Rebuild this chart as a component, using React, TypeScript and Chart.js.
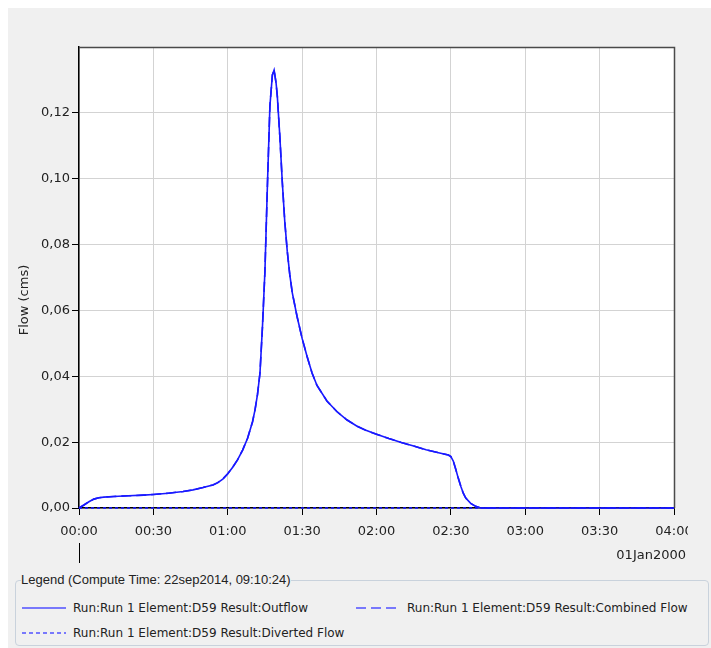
import React, { useEffect, useRef } from "react";
import { Chart, registerables } from "chart.js";

Chart.register(...registerables);

// Time since 01Jan2000 00:00, in minutes
const timeMinutes = [
  0, 2, 4, 6, 8, 10, 14, 20, 26, 30, 36, 42, 46, 50, 54, 56, 58, 60, 62, 64, 66, 68, 70, 71, 72, 73, 74, 75,
  76, 77, 78, 78.7, 79.5, 80, 81, 82, 83, 84, 85, 86, 88, 90, 92, 94, 96, 100, 104, 108, 112, 116, 120, 125,
  130, 135, 140, 145, 149, 150, 151, 152, 153, 154, 155, 156, 158, 160, 162, 180, 210, 240,
];

// Outflow (cms)
const outflow = [
  0, 0.0009, 0.0019, 0.0027, 0.0031, 0.0033, 0.0035, 0.0037, 0.0039, 0.0041, 0.0045, 0.005, 0.0055, 0.0062,
  0.007, 0.0077, 0.0088, 0.0104, 0.0124, 0.0147, 0.0176, 0.0212, 0.0262, 0.0298, 0.0345, 0.041, 0.055, 0.072,
  0.098, 0.122, 0.1315, 0.133, 0.129, 0.125, 0.113, 0.099, 0.087, 0.078, 0.071, 0.0655, 0.058, 0.0515, 0.046,
  0.041, 0.0372, 0.0325, 0.0293, 0.0268, 0.0249, 0.0235, 0.0224, 0.0211, 0.0199, 0.0188, 0.0177, 0.0168,
  0.0161, 0.0156, 0.0142, 0.0117, 0.009, 0.0066, 0.0045, 0.003, 0.0014, 0.0005, 0, 0, 0, 0,
];

// Combined flow coincides with the outflow curve
const combinedFlow = outflow;

// Diverted flow stays at zero
const divertedTimes = [0, 240];
const divertedFlow = [0, 0];

const xTicksMinutes = [0, 30, 60, 90, 120, 150, 180, 210, 240];
const yTicks = [0, 0.02, 0.04, 0.06, 0.08, 0.1, 0.12];

const seriesLabels = [
  "Run:Run 1 Element:D59 Result:Outflow",
  "Run:Run 1 Element:D59 Result:Combined Flow",
  "Run:Run 1 Element:D59 Result:Diverted Flow",
];
const legendTitle = "Legend (Compute Time: 22sep2014, 09:10:24)";
const yTitle = "Flow (cms)";
const dateLabel = "01Jan2000";

const LINE = "rgb(25,25,255)";
const SWATCH = "rgb(80,80,255)";
const FONT = '"DejaVu Sans", sans-serif';

function fmtTime(v: number) {
  const h = Math.floor(v / 60);
  const m = Math.round(v % 60);
  return `${String(h).padStart(2, "0")}:${String(m).padStart(2, "0")}`;
}

const framePlugin = {
  id: "framePlugin",
  beforeDraw(chart: any) {
    const { ctx, chartArea: a } = chart;
    ctx.save();
    ctx.fillStyle = "#ffffff";
    ctx.fillRect(a.left, a.top, a.right - a.left, a.bottom - a.top);
    ctx.restore();
  },
  beforeDatasetsDraw(chart: any) {
    const { ctx, chartArea: a } = chart;
    ctx.save();
    ctx.strokeStyle = "#4a4a4a";
    ctx.lineWidth = 1.5;
    ctx.beginPath();
    ctx.moveTo(a.left, Math.round(a.top) + 0.5);
    ctx.lineTo(Math.round(a.right) + 0.5, Math.round(a.top) + 0.5);
    ctx.lineTo(Math.round(a.right) + 0.5, a.bottom);
    ctx.stroke();
    ctx.restore();
  },
  afterDraw(chart: any) {
    const { ctx } = chart;
    const xs = chart.scales.x;
    ctx.save();
    // y-axis title
    ctx.fillStyle = "#222";
    ctx.font = `13px ${FONT}`;
    ctx.textAlign = "center";
    ctx.textBaseline = "middle";
    ctx.translate(17, 292);
    ctx.rotate(-Math.PI / 2);
    ctx.fillText(yTitle, 0, 0);
    ctx.restore();

    ctx.save();
    ctx.fillStyle = "#222";
    ctx.font = `13px ${FONT}`;
    ctx.textAlign = "right";
    ctx.textBaseline = "alphabetic";
    ctx.fillText(dateLabel, 678, 551);
    // date period tick
    const x0 = Math.round(xs.getPixelForValue(timeMinutes[0])) + 0.5;
    ctx.strokeStyle = "#000";
    ctx.lineWidth = 1;
    ctx.beginPath();
    ctx.moveTo(x0, 535);
    ctx.lineTo(x0, 555);
    ctx.stroke();
    ctx.restore();
  },
};

function Swatch({ dash }: { dash?: string }) {
  return (
    <svg width={44} height={6} style={{ display: "inline-block", verticalAlign: "middle" }}>
      <line x1={0} y1={3} x2={44} y2={3} stroke={SWATCH} strokeWidth={1.6} strokeDasharray={dash} />
    </svg>
  );
}

export default function App() {
  const canvasRef = useRef<HTMLCanvasElement>(null);

  useEffect(() => {
    if (!canvasRef.current) return;
    const chart = new Chart(canvasRef.current, {
      type: "line",
      data: {
        datasets: [
          {
            label: seriesLabels[2],
            data: divertedTimes.map((t, i) => ({ x: t, y: divertedFlow[i] })),
            borderColor: LINE,
            borderWidth: 1.6,
            borderDash: [3, 3],
            pointRadius: 0,
            tension: 0,
            clip: 6,
          },
          {
            label: seriesLabels[0],
            data: timeMinutes.map((t, i) => ({ x: t, y: outflow[i] })),
            borderColor: LINE,
            borderWidth: 1.6,
            pointRadius: 0,
            tension: 0,
            clip: 6,
          },
          {
            label: seriesLabels[1],
            data: timeMinutes.map((t, i) => ({ x: t, y: combinedFlow[i] })),
            borderColor: LINE,
            borderWidth: 1.6,
            borderDash: [10, 5],
            pointRadius: 0,
            tension: 0,
            clip: 6,
          },
        ],
      },
      options: {
        responsive: false,
        animation: false,
        devicePixelRatio: 1,
        layout: { padding: { top: 39, right: 14, left: 0, bottom: 0 } },
        plugins: { legend: { display: false }, tooltip: { enabled: false } },
        scales: {
          x: {
            type: "linear",
            min: xTicksMinutes[0],
            max: xTicksMinutes[xTicksMinutes.length - 1],
            afterBuildTicks: (s: any) => {
              s.ticks = xTicksMinutes.map((v) => ({ value: v }));
            },
            afterFit: (s: any) => {
              s.height = 62;
              s.paddingLeft = 0;
              s.paddingRight = 0;
            },
            grid: {
              color: "#d3d3d3",
              lineWidth: 1,
              tickLength: 7,
              tickColor: "#000",
            },
            border: { color: "#000", width: 1.5 },
            ticks: {
              padding: 9,
              maxRotation: 0,
              autoSkip: false,
              color: "#222",
              font: { family: FONT, size: 13 },
              callback: (v: any) => fmtTime(Number(v)),
            },
          },
          y: {
            type: "linear",
            min: 0,
            max: 0.14,
            afterBuildTicks: (s: any) => {
              s.ticks = [...yTicks, 0.14].map((v) => ({ value: v }));
            },
            afterFit: (s: any) => {
              s.width = 71;
              s.paddingTop = 0;
              s.paddingBottom = 0;
            },
            grid: {
              color: "#d3d3d3",
              lineWidth: 1,
              tickLength: 7,
              tickColor: (c: any) => (c.tick && c.tick.value > 0.13 ? "rgba(0,0,0,0)" : "#000"),
            },
            border: { color: "#000", width: 1.5 },
            ticks: {
              padding: 2,
              color: "#222",
              font: { family: FONT, size: 13 },
              callback: (v: any) => (Number(v) > 0.13 ? "" : Number(v).toFixed(2).replace(".", ",")),
            },
          },
        },
      },
      plugins: [framePlugin],
    } as any);
    return () => chart.destroy();
  }, []);

  const textStyle: React.CSSProperties = {
    fontFamily: FONT,
    fontSize: 12,
    color: "#222",
    whiteSpace: "nowrap",
    marginLeft: 7,
  };

  return (
    <div
      style={{
        position: "fixed",
        left: 8,
        top: 8,
        width: 703,
        height: 640,
        background: "#f0f0f0",
        overflow: "hidden",
      }}
    >
      <canvas ref={canvasRef} width={680} height={562} style={{ position: "absolute", left: 0, top: 0 }} />
      <div
        style={{
          position: "absolute",
          left: 7,
          top: 572,
          width: 692,
          height: 64,
          border: "1px solid #c9d2dc",
          borderRadius: 4,
        }}
      >
        <span
          style={{
            position: "absolute",
            left: 5,
            top: -9,
            background: "#f0f0f0",
            fontFamily: '"Liberation Sans", Arial, sans-serif',
            fontSize: 13,
            lineHeight: "16px",
            color: "#222",
            whiteSpace: "nowrap",
          }}
        >
          {legendTitle}
        </span>
        <div style={{ position: "absolute", left: 6, top: 20, display: "flex", alignItems: "center", lineHeight: "14px" }}>
          <Swatch />
          <span style={textStyle}>{seriesLabels[0]}</span>
        </div>
        <div style={{ position: "absolute", left: 340, top: 20, display: "flex", alignItems: "center", lineHeight: "14px" }}>
          <Swatch dash="10 5" />
          <span style={textStyle}>{seriesLabels[1]}</span>
        </div>
        <div style={{ position: "absolute", left: 6, top: 45, display: "flex", alignItems: "center", lineHeight: "14px" }}>
          <Swatch dash="4 3" />
          <span style={textStyle}>{seriesLabels[2]}</span>
        </div>
      </div>
    </div>
  );
}
